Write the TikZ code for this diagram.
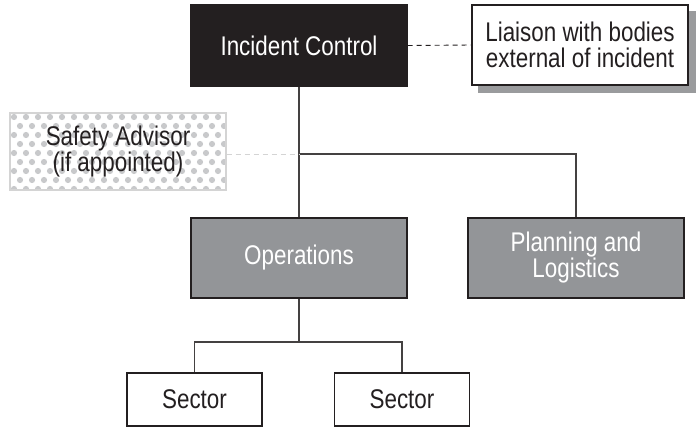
\documentclass[tikz,border=0pt]{standalone}
\usepackage{fontspec}
\setmainfont{Liberation Sans}[FakeStretch=0.83]
\usetikzlibrary{backgrounds}
\definecolor{ink}{HTML}{231F20}
\definecolor{midgrey}{HTML}{939598}
\definecolor{shadowgrey}{HTML}{9A9B9D}
\definecolor{dotgrey}{HTML}{C8C9CB}
\definecolor{paleline}{HTML}{D4D4D4}
\begin{document}
\begin{tikzpicture}[x=1pt,y=-1pt,
  box/.style={draw=ink, line width=1.1pt, minimum width=216pt, minimum height=80pt,
    align=center, inner sep=0pt, text=ink, font=\fontsize{27}{26}\selectfont},
  dark/.style={box, fill=ink, text=white},
  grey/.style={box, fill=midgrey, text=white},
  plain/.style={box, fill=white},
  sectorbox/.style={box, fill=white, minimum width=135pt, minimum height=53pt},
  advisor/.style={box, draw=paleline, minimum height=77pt},
  link/.style={draw=ink!85, line width=1.1pt},
  liaisonlink/.style={draw=ink, line width=0.9pt, dash pattern=on 5pt off 4pt},
  advisorlink/.style={draw=paleline, line width=0.9pt, dash pattern=on 5pt off 4pt}]
\useasboundingbox (0,0) rectangle (697,428);

% boxes
\node[dark, minimum height=81pt] (ic) at (299,45.5) {Incident Control};
\node[plain] (lia) at (580,45) {Liaison with bodies\\external of incident};
\node[advisor] (saf) at (118,151.5) {Safety Advisor\\(if appointed)};
\node[grey] (ops) at (299,258) {Operations};
\node[grey] (plan) at (576,258) {Planning and\\Logistics};
\node[sectorbox] (s1) at (194.5,399.5) {Sector};
\node[sectorbox] (s2) at (402,399.5) {Sector};

% page ground, shadow of the liaison box and dotted fill of the advisor box
\begin{pgfonlayer}{background}
  \fill[white] (0,0) rectangle (697,428);
  \fill[shadowgrey] ([shift={(7,7)}]lia.south west) rectangle ([shift={(7,7)}]lia.north east);
  \begin{scope}
    \clip (saf.south west) rectangle (saf.north east);
    \foreach \r in {0,...,9} {
      \foreach \c in {0,...,19} {
        \fill[dotgrey] ({14+12*\c+6*mod(\r,2)},{117+9*\r}) circle [radius=3.1pt];
      }
    }
  \end{scope}
\end{pgfonlayer}

% connectors
\coordinate (j1) at (ic.south |- 0,154);
\coordinate (j2) at (ops.south |- 0,342);
\draw[link] (ic.south) -- (ops.north);
\draw[link] (j1) -| (plan.north);
\draw[link] (ops.south) -- (j2);
\draw[link] (s1.north) |- (j2) -| (s2.north);
\draw[liaisonlink] (ic.east) -- (lia.west);
\draw[advisorlink] (saf.east |- j1) -- (j1);
\end{tikzpicture}
\end{document}
